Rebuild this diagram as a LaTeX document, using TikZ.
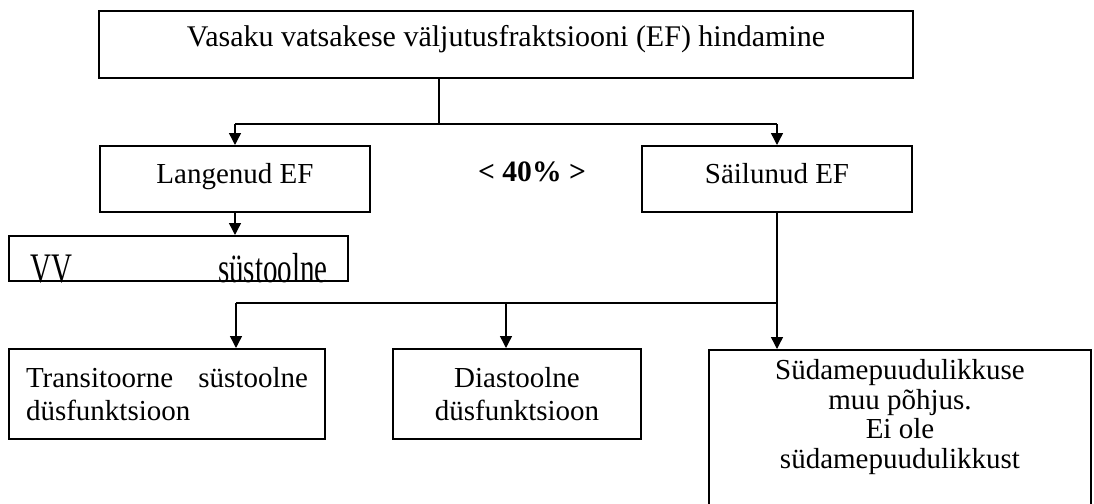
\documentclass[tikz,border=0pt]{standalone}
\usepackage{fontspec}
\setmainfont{Liberation Serif}
\usetikzlibrary{arrows.meta, positioning}

\begin{document}
\begin{tikzpicture}[x=0.5pt, y=-0.5pt,
  box/.style={rectangle, draw, line width=1pt, inner sep=0pt, align=center, font=\fontsize{14.5}{16.5}\selectfont},
  onebox/.style={box, text height=0.69em, text depth=0.22em},
  txt/.style={inner sep=0pt, font=\fontsize{14.5}{16.5}\selectfont},
  arr/.style={-{Triangle[length=6pt, width=6pt]}, line width=0.7pt},
  lin/.style={line width=0.7pt}
]
\useasboundingbox (0,0) rectangle (1094,504);
\clip (0,0) rectangle (1094,504);

\node[onebox, font=\fontsize{15}{17}\selectfont, text depth=0.45em, minimum width=407pt, minimum height=33.5pt] (top) at (506,44.5) {Vasaku vatsakese väljutusfraktsiooni (EF) hindamine};
\node[onebox, minimum width=135pt, minimum height=33pt] (lang) at (235,179) {Langenud EF};
\node[onebox, minimum width=135pt, minimum height=33pt] (sail) at (777,179) {Säilunud EF};
\node[txt, anchor=base, font=\fontsize{14.8}{16.5}\selectfont\bfseries] (thr) at (532,181) {< 40\% >};

% cut-off box under Langenud EF
\node[box, minimum width=169.5pt, minimum height=22.5pt] (vv) at (178.5,258.5) {};
\begin{scope}
  \clip (vv.north west) rectangle (vv.south east);
  \node[txt, anchor=base west] (vvl) at (30,282) {\scalebox{1}[1.45]{VV}};
  \node[txt, anchor=base east] (vvr) at (328,282) {\scalebox{1}[1.45]{süstoolne}};
\end{scope}

\node[box, minimum width=158pt, minimum height=45pt, text width=141pt, align=left] (trans) at (167,394) {Transitoorne\hfill süstoolne\\düsfunktsioon};
\node[box, minimum width=124pt, minimum height=45pt] (dia) at (517,394) {Diastoolne\\düsfunktsioon};
\node[box, minimum width=191pt, minimum height=90pt, anchor=north] (other) at (900,349) {};
\node[txt, font=\fontsize{14.5}{14.8}\selectfont, align=center, anchor=north] (othertxt) at (900,359) {Südamepuudulikkuse\\muu põhjus.\\Ei ole\\südamepuudulikkust};

\coordinate (fork) at (439,124);
\coordinate (j1) at (236,303);
\coordinate (j2) at (506,303);

\draw[lin] (fork |- top.south) -- (fork);
\draw[lin] (lang.north |- fork) -- (sail.north |- fork);
\draw[arr] (lang.north |- fork) -- (lang.north);
\draw[arr] (sail.north |- fork) -- (sail.north);
\draw[arr] (lang.south) -- (lang.south |- vv.north);

\draw[lin] (sail.south) -- (sail.south |- j1);
\draw[lin] (j1) -- (sail.south |- j1);
\draw[arr] (j1) -- (j1 |- trans.north);
\draw[arr] (j2) -- (j2 |- dia.north);
\draw[arr] (sail.south |- j1) -- (sail.south |- other.north);
\end{tikzpicture}
\end{document}
